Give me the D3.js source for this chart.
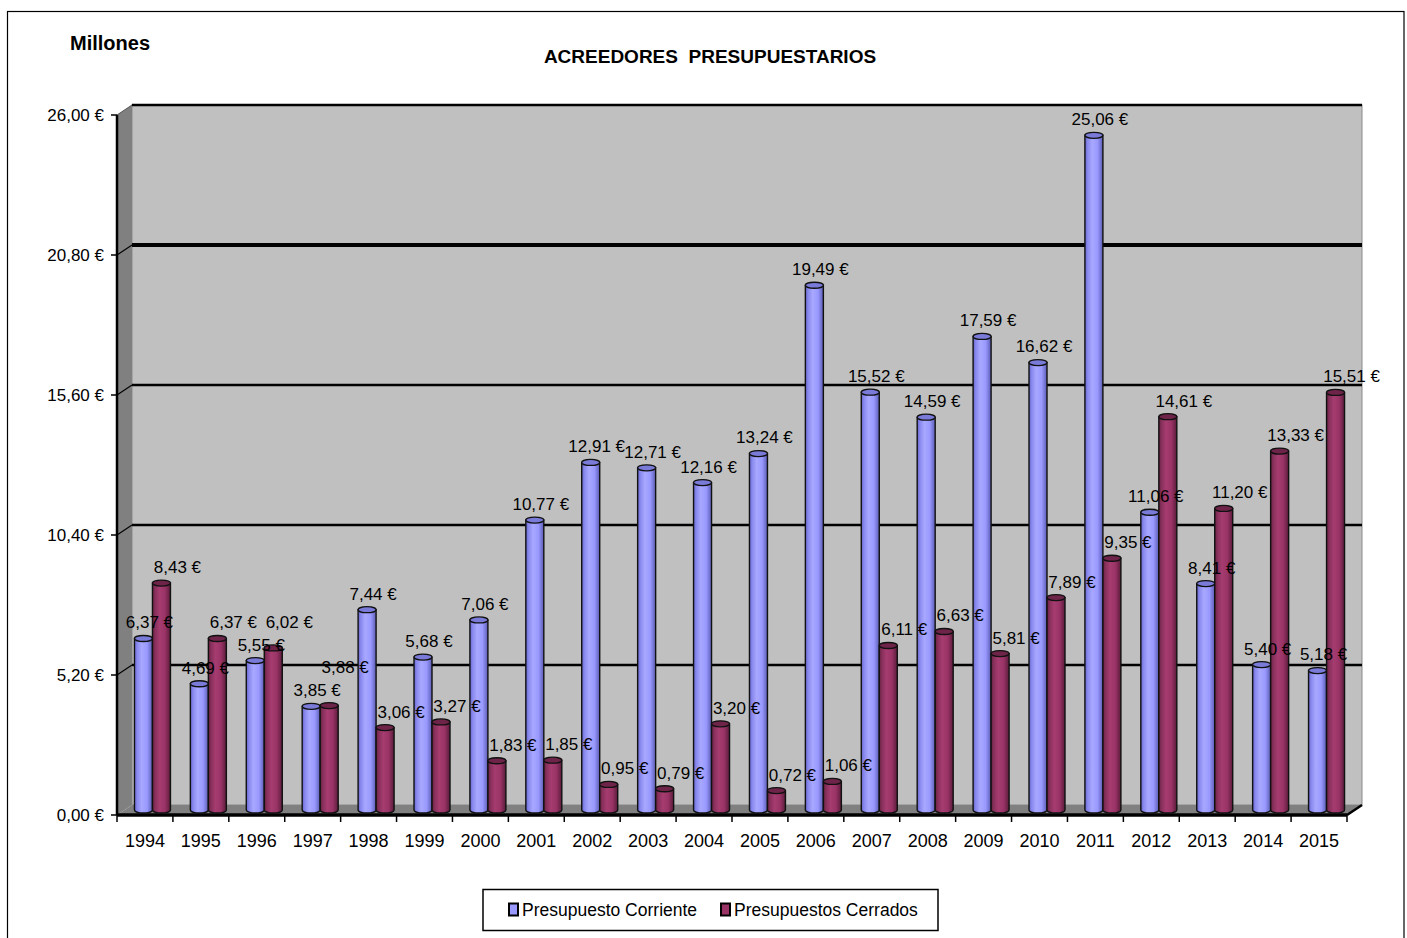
<!DOCTYPE html>
<html><head><meta charset="utf-8">
<script src="https://cdn.jsdelivr.net/npm/d3@7/dist/d3.min.js"></script>
<style>body{margin:0;background:#fff}svg{display:block}text{font-family:"Liberation Sans",Arial,sans-serif;fill:#000}</style>
</head><body>
<script>
const years = ["1994","1995","1996","1997","1998","1999","2000","2001","2002","2003","2004","2005","2006","2007","2008","2009","2010","2011","2012","2013","2014","2015"];
const corriente = [6.37,4.69,5.55,3.85,7.44,5.68,7.06,10.77,12.91,12.71,12.16,13.24,19.49,15.52,14.59,17.59,16.62,25.06,11.06,8.41,5.40,5.18];
const cerrados = [8.43,6.37,6.02,3.88,3.06,3.27,1.83,1.85,0.95,0.79,3.20,0.72,1.06,6.11,6.63,5.81,7.89,9.35,14.61,11.20,13.33,15.51];
const yTicks = [0,5.2,10.4,15.6,20.8,26];
const seriesNames = ["Presupuesto Corriente","Presupuestos Cerrados"];

const W=1407,H=938;
const svg=d3.select("body").append("svg").attr("width",W).attr("height",H);
const loc=d3.formatLocale({decimal:",",thousands:".",grouping:[3],currency:[""," €"]});
const fmt=v=>loc.format(".2f")(v)+" €";

const X0=117,X1=1347,DX=15,DY=-10;
const x=d3.scaleBand().domain(years).range([X0,X1]).paddingInner(0).paddingOuter(0);
const y=d3.scaleLinear().domain([0,26]).range([815,115]);

// gradients
const defs=svg.append("defs");
function grad(id,stops){const g=defs.append("linearGradient").attr("id",id).attr("x1","0").attr("x2","1").attr("y1","0").attr("y2","0");
 stops.forEach(s=>g.append("stop").attr("offset",s[0]).attr("stop-color",s[1]));}
grad("gBlue",[[0,"#6464c8"],[0.15,"#8888ee"],[0.4,"#a8a8ff"],[0.7,"#9999ff"],[1,"#5c5cb4"]]);
grad("gRed",[[0,"#66213f"],[0.15,"#88305c"],[0.4,"#a63c70"],[0.7,"#993366"],[1,"#5a1c3a"]]);

// outer border
svg.append("rect").attr("x",7.5).attr("y",11.5).attr("width",1396.5).attr("height",940).attr("fill","none").attr("stroke","#000").attr("stroke-width",1.2);

// titles
svg.append("text").attr("x",710).attr("y",63).attr("text-anchor","middle").attr("font-size",19).attr("font-weight","bold").attr("xml:space","preserve").text("ACREEDORES  PRESUPUESTARIOS");
svg.append("text").attr("x",70).attr("y",50).attr("font-size",20).attr("font-weight","bold").text("Millones");

// back wall
const bx0=X0+DX,bx1=X1+DX;
svg.append("rect").attr("x",bx0).attr("y",y(26)+DY).attr("width",bx1-bx0).attr("height",y(0)-y(26)).attr("fill","#c0c0c0").attr("stroke","#8a8a8a").attr("stroke-width",1);
svg.append("line").attr("x1",bx0).attr("x2",bx1).attr("y1",y(26)+DY).attr("y2",y(26)+DY).attr("stroke","#000").attr("stroke-width",2.5);
// side wall
svg.append("polygon").attr("points",[[X0,y(26)],[bx0,y(26)+DY],[bx0,y(0)+DY],[X0,y(0)]].join(" ")).attr("fill","#808080");
// floor
svg.append("polygon").attr("points",[[X0,y(0)],[bx0,y(0)+DY],[bx1,y(0)+DY],[X1,y(0)]].join(" ")).attr("fill","#808080");
// gridlines
yTicks.filter(t=>t>0&&t<26).forEach(t=>{
  svg.append("line").attr("x1",bx0).attr("x2",bx1).attr("y1",y(t)+DY).attr("y2",y(t)+DY).attr("stroke","#000").attr("stroke-width",t===20.8?4:2.5);
  svg.append("line").attr("x1",X0).attr("x2",bx0).attr("y1",y(t)).attr("y2",y(t)+DY).attr("stroke","#000").attr("stroke-width",1.2);
});
// front axis lines
svg.append("line").attr("x1",X0).attr("x2",X0).attr("y1",y(26)).attr("y2",y(0)).attr("stroke","#000").attr("stroke-width",2.5);
svg.append("line").attr("x1",X0).attr("x2",X1).attr("y1",y(0)).attr("y2",y(0)).attr("stroke","#000").attr("stroke-width",3.5);
svg.append("line").attr("x1",X1).attr("x2",bx1).attr("y1",y(0)).attr("y2",y(0)+DY).attr("stroke","#000").attr("stroke-width",2.5);
svg.append("line").attr("x1",X0).attr("x2",bx0).attr("y1",y(26)).attr("y2",y(26)+DY).attr("stroke","#555").attr("stroke-width",1);

// y axis ticks and labels
const yAxis=svg.append("g");
yTicks.forEach(t=>{
  yAxis.append("line").attr("x1",X0-6).attr("x2",X0).attr("y1",y(t)).attr("y2",y(t)).attr("stroke","#000").attr("stroke-width",1.5);
  yAxis.append("text").attr("x",104).attr("y",y(t)).attr("dy","0.35em").attr("text-anchor","end").attr("font-size",17).text(fmt(t));
});
// x ticks and labels
const bounds=years.map(d=>x(d)).concat([X1]);
bounds.forEach(b=>svg.append("line").attr("x1",b).attr("x2",b).attr("y1",y(0)).attr("y2",y(0)+7).attr("stroke","#000").attr("stroke-width",1.5));
years.forEach(d=>svg.append("text").attr("x",x(d)+x.bandwidth()/2).attr("y",841).attr("dy","0.35em").attr("text-anchor","middle").attr("font-size",18).text(d));

// cylinders
const BW=18,RY=3,MDX=DX/2,MDY=DY/2;
function cyl(cx,v,gid,topFill){
  const L=cx-BW/2,R=cx+BW/2,yt=y(v)+MDY,yb=y(0)+MDY;
  const g=svg.append("g");
  g.append("path").attr("d",`M${L},${yt} L${L},${yb} A${BW/2},${RY} 0 0 0 ${R},${yb} L${R},${yt} Z`)
    .attr("fill",`url(#${gid})`).attr("stroke","#111").attr("stroke-width",1.4);
  g.append("ellipse").attr("cx",cx).attr("cy",yt).attr("rx",BW/2).attr("ry",RY).attr("fill",topFill).attr("stroke","#111").attr("stroke-width",1.3);
}
years.forEach((d,i)=>{
  const c=x(d)+x.bandwidth()/2+MDX;
  cyl(c-BW/2,corriente[i],"gBlue","#7a7ad8");
  cyl(c+BW/2,cerrados[i],"gRed","#6e2448");
});
// value labels with simple collision avoidance
const LH=20;
years.forEach((d,i)=>{
  const c=x(d)+x.bandwidth()/2+MDX;
  const b={x:c-BW/2+6,y:y(corriente[i])+MDY-16,t:fmt(corriente[i])};
  const r={x:c+BW/2+16,y:y(cerrados[i])+MDY-16,t:fmt(cerrados[i])};
  const wb=b.t.length*9.4,wr=r.t.length*9.4;
  const hOver=Math.abs(b.x-r.x)<(wb+wr)/2;
  if(hOver&&Math.abs(b.y-r.y)<LH){
    if(r.y<=b.y) r.y=b.y-LH-3; else b.y=r.y-LH-3;
  }
  [b,r].forEach(l=>svg.append("text").attr("x",l.x).attr("y",l.y).attr("dy","0.35em").attr("text-anchor","middle").attr("font-size",17).text(l.t));
});

// legend
const lg=svg.append("g");
lg.append("rect").attr("x",483).attr("y",889.5).attr("width",455).attr("height",41).attr("fill","#fff").attr("stroke","#000").attr("stroke-width",1.5);
const lx=[509,721],cols=["#9999ff","#993366"];
seriesNames.forEach((n,i)=>{
  lg.append("rect").attr("x",lx[i]).attr("y",903.5).attr("width",9).attr("height",12).attr("fill",cols[i]).attr("stroke","#000").attr("stroke-width",2);
  lg.append("text").attr("x",lx[i]+13).attr("y",910).attr("dy","0.35em").attr("font-size",17.5).text(n);
});
</script>
</body></html>
